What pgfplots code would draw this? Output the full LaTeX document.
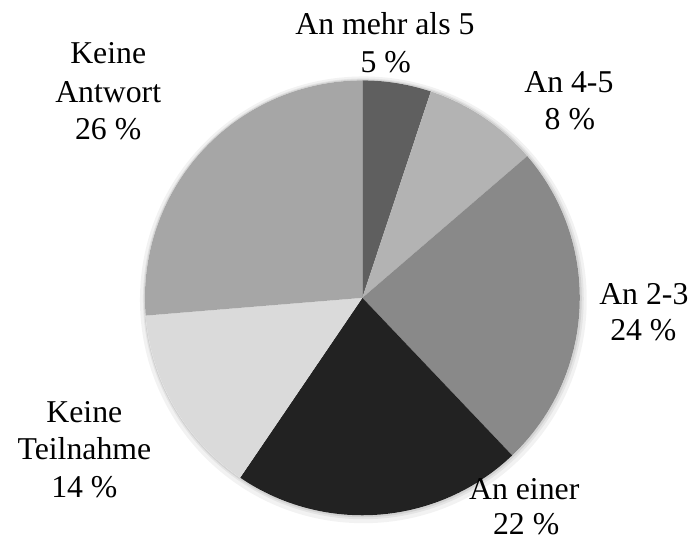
\documentclass[border=0pt]{standalone}
\usepackage{pgfplots}
\pgfplotsset{compat=1.18}
\usepackage{pgfplotstable}
\usepackage{fontspec}
\setmainfont{Liberation Serif}
\definecolor{cA}{HTML}{5F5F5F}
\definecolor{cB}{HTML}{B3B3B3}
\definecolor{cC}{HTML}{898989}
\definecolor{cD}{HTML}{222222}
\definecolor{cE}{HTML}{DADADA}
\definecolor{cF}{HTML}{A6A6A6}
% share (%) of each slice, clockwise from 12 o'clock
\pgfplotstableread{
value
5.1
8.6
24.2
21.6
14.2
26.3
}\piedata
\begin{document}
\xdef\cum{90}
\pgfplotsforeachungrouped \i in {0,...,5}{%
  \pgfplotstablegetelem{\i}{value}\of\piedata
  \pgfmathsetmacro\s{\cum}%
  \pgfmathsetmacro\e{\cum-3.6*\pgfplotsretval}%
  \expandafter\xdef\csname sA\i\endcsname{\s}%
  \expandafter\xdef\csname eA\i\endcsname{\e}%
  \xdef\cum{\e}%
}
\begin{tikzpicture}
\begin{axis}[
  scale only axis, width=689bp, height=546bp,
  xmin=0, xmax=689, ymin=0, ymax=546,
  hide axis, clip=false,
]
\path (axis cs:0,0) rectangle (axis cs:689,546);
% soft shadow
\fill[black, opacity=0.05] (axis cs:361,244) circle[radius=225bp];
\fill[black, opacity=0.06] (axis cs:361,245) circle[radius=222bp];
\fill[black, opacity=0.08] (axis cs:360.5,245.5) circle[radius=220.5bp];
\fill[white] (axis cs:360,246) circle[radius=219bp];
\fill[cA] (axis cs:360,246) -- ++(\csname sA0\endcsname:219bp) arc[start angle=\csname sA0\endcsname, end angle=\csname eA0\endcsname, radius=219bp] -- cycle;
\fill[cB] (axis cs:360,246) -- ++(\csname sA1\endcsname:219bp) arc[start angle=\csname sA1\endcsname, end angle=\csname eA1\endcsname, radius=219bp] -- cycle;
\fill[cC] (axis cs:360,246) -- ++(\csname sA2\endcsname:219bp) arc[start angle=\csname sA2\endcsname, end angle=\csname eA2\endcsname, radius=219bp] -- cycle;
\fill[cD] (axis cs:360,246) -- ++(\csname sA3\endcsname:219bp) arc[start angle=\csname sA3\endcsname, end angle=\csname eA3\endcsname, radius=219bp] -- cycle;
\fill[cE] (axis cs:360,246) -- ++(\csname sA4\endcsname:219bp) arc[start angle=\csname sA4\endcsname, end angle=\csname eA4\endcsname, radius=219bp] -- cycle;
\fill[cF] (axis cs:360,246) -- ++(\csname sA5\endcsname:219bp) arc[start angle=\csname sA5\endcsname, end angle=\csname eA5\endcsname, radius=219bp] -- cycle;
% labels (baselines)
\tikzset{lab/.style={anchor=base, inner sep=0pt, font=\fontsize{32bp}{38bp}\selectfont}}
\node[lab] at (axis cs:382.7,511) {An mehr als 5};
\node[lab] at (axis cs:383.5,473.3) {5 \%};
\node[lab] at (axis cs:568,452.7) {An 4-5};
\node[lab] at (axis cs:569,416) {8 \%};
\node[lab] at (axis cs:643.5,239.3) {An 2-3};
\node[lab] at (axis cs:643,202.7) {24 \%};
\node[lab] at (axis cs:523,42.5) {An einer};
\node[lab] at (axis cs:525,8) {22 \%};
\node[lab] at (axis cs:80,120) {Keine};
\node[lab] at (axis cs:80,82.7) {Teilnahme};
\node[lab] at (axis cs:80,45) {14 \%};
\node[lab] at (axis cs:104,481.7) {Keine};
\node[lab] at (axis cs:104,442.7) {Antwort};
\node[lab] at (axis cs:104,405) {26 \%};
\end{axis}
\end{tikzpicture}
\end{document}
